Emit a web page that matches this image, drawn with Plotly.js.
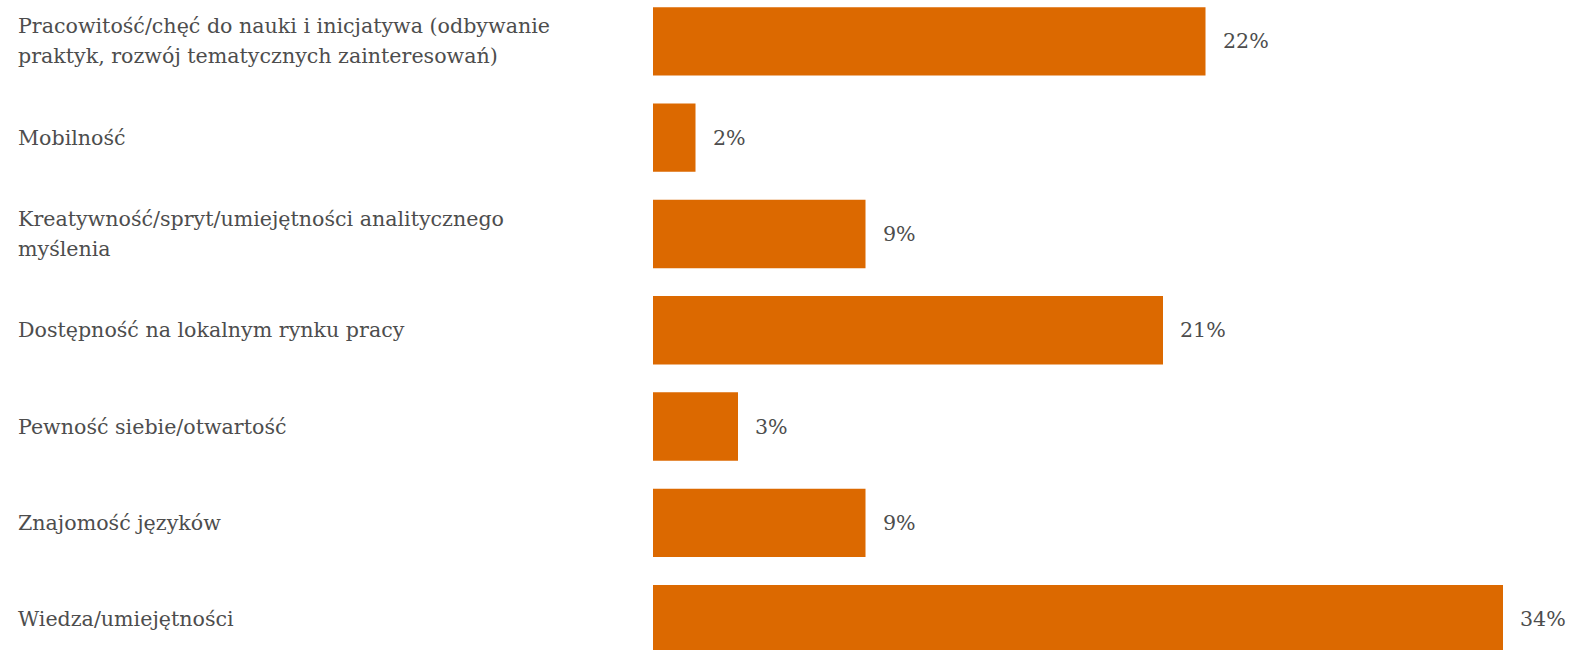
<!DOCTYPE html>
<html>
<head>
<meta charset="utf-8">
<script src="https://cdn.plot.ly/plotly-3.0.1.min.js"></script>
<style>html,body{margin:0;padding:0;background:#fff;}#chart{width:1579px;height:650px;}</style>
</head>
<body>
<div id="chart"></div>
<script>
const categories = [
  "Pracowitość/chęć do nauki i inicjatywa (odbywanie<br>praktyk, rozwój tematycznych zainteresowań)",
  "Mobilność",
  "Kreatywność/spryt/umiejętności analitycznego<br>myślenia",
  "Dostępność na lokalnym rynku pracy",
  "Pewność siebie/otwartość",
  "Znajomość języków",
  "Wiedza/umiejętności"
];
const values = [22.1, 1.7, 8.5, 20.4, 3.4, 8.5, 34.0];
const valueLabels = ["22%", "2%", "9%", "21%", "3%", "9%", "34%"];

const FONT = "'DejaVu Serif', Georgia, serif";
const TEXTCOL = "#4d4d4d";
const FS = 20.6;
const LINE_H = 30;
const idx = categories.map((c, i) => i);

const annotations = [];
categories.forEach((c, i) => {
  const lines = c.split('<br>');
  lines.forEach((ln, k) => {
    annotations.push({
      xref: 'paper', yref: 'y', x: -0.6879, y: i, text: ln, showarrow: false,
      xanchor: 'left', yanchor: 'middle', align: 'left',
      yshift: ((lines.length - 1) / 2 - k) * LINE_H,
      font: {family: FONT, size: FS, color: TEXTCOL}
    });
  });
  annotations.push({
    xref: 'x', yref: 'y', x: values[i], y: i, text: valueLabels[i], showarrow: false,
    xanchor: 'left', yanchor: 'middle', xshift: 15,
    font: {family: FONT, size: FS, color: TEXTCOL}
  });
});

Plotly.newPlot('chart', [{
  type: 'bar', orientation: 'h', x: values, y: idx,
  marker: {color: '#DC6900', line: {width: 0}},
  hoverinfo: 'none'
}], {
  width: 1579, height: 650,
  margin: {l: 653, r: 0, t: 0, b: 0, pad: 0},
  paper_bgcolor: '#fff', plot_bgcolor: '#fff',
  bargap: 0.29,
  showlegend: false,
  xaxis: {range: [0, 37.04], visible: false, showgrid: false, zeroline: false},
  yaxis: {range: [6.32, -0.429], visible: false, showgrid: false, zeroline: false},
  annotations: annotations
}, {displayModeBar: false, staticPlot: true});
</script>
</body>
</html>
